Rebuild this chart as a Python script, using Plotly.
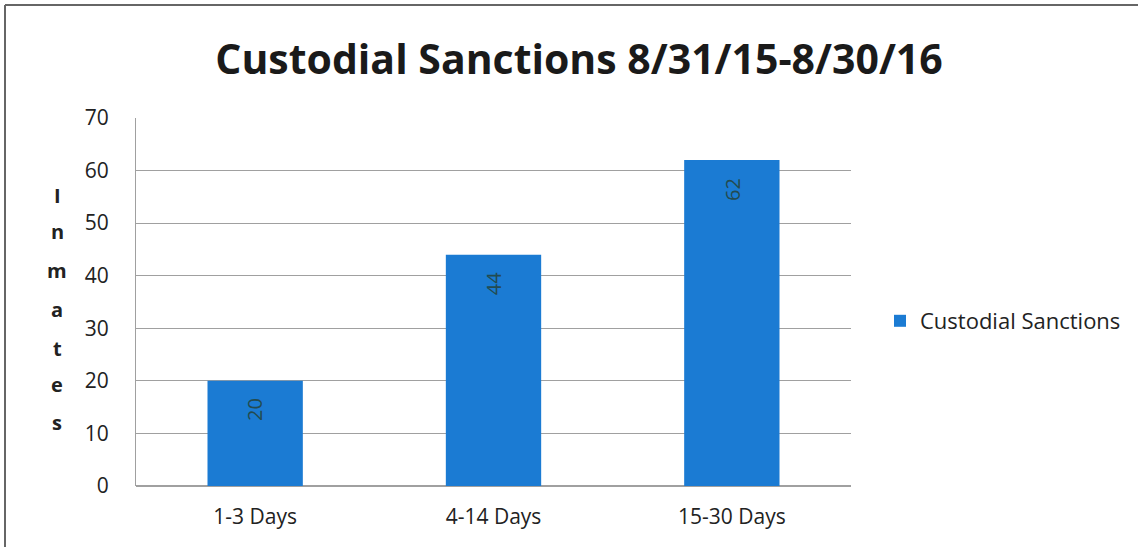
import plotly.graph_objects as go

categories = ["1-3 Days", "4-14 Days", "15-30 Days"]
values = [20, 44, 62]
series_name = "Custodial Sanctions"
title_text = "Custodial Sanctions 8/31/15-8/30/16"
y_title = "Inmates"
y_ticks = [0, 10, 20, 30, 40, 50, 60, 70]

W, H = 1138, 547
L, R, T, B = 136, 287, 118, 61
pw, ph = W - L - R, H - T - B

font = "Open Sans, Liberation Sans, sans-serif"


def px2x(px):
    return (px - L) / pw


def py2y(py):
    return 1 - (py - T) / ph


fig = go.Figure()
fig.add_trace(go.Bar(
    x=categories, y=values, name=series_name,
    marker=dict(color="#1B7BD3", line=dict(width=0)),
    width=0.4,
))

# data labels, rotated, a little below the bar tops
for c, v in zip(categories, values):
    fig.add_annotation(x=c, y=v, yshift=-29, text=str(v), textangle=-90,
                       showarrow=False, xanchor="center", yanchor="middle",
                       font=dict(family=font, size=20, color="#234B50"))

fig.update_layout(
    width=W, height=H,
    margin=dict(l=L, r=R, t=T, b=B, autoexpand=False),
    paper_bgcolor="white", plot_bgcolor="white",
    showlegend=True,
    legend=dict(x=px2x(880), y=py2y(321), xanchor="left", yanchor="middle",
                font=dict(family=font, size=22, color="#222"),
                itemwidth=30, bgcolor="rgba(0,0,0,0)"),
    title=dict(text="<b>" + title_text + "</b>", xref="container", x=579 / W,
               xanchor="center", y=1 - 60 / H, yanchor="middle",
               font=dict(family=font, size=41, color="#1a1a1a")),
    xaxis=dict(showline=False, ticks="", ticklabelstandoff=16,
               tickfont=dict(family=font, size=21, color="#222"),
               showgrid=False, automargin=False),
    yaxis=dict(range=[0, 70], tickvals=y_ticks, showgrid=True, gridcolor="#a0a0a0",
               gridwidth=1, showline=True, linecolor="#a0a0a0", zeroline=True,
               zerolinecolor="#a0a0a0", ticks="", ticklabelstandoff=22,
               tickfont=dict(family=font, size=21, color="#222"), automargin=False),
)

# vertical stacked axis title, one letter per line
letter_y = [196, 232, 270, 309, 348, 384, 422]
for ch, yy in zip(y_title, letter_y):
    fig.add_annotation(text="<b>" + ch + "</b>", xref="paper", yref="paper",
                       x=px2x(57), y=py2y(yy), xanchor="center", yanchor="middle",
                       showarrow=False, font=dict(family=font, size=20, color="#222"))

# outer frame lines
fig.add_shape(type="line", xref="paper", yref="paper", x0=px2x(5), x1=px2x(1138),
              y0=py2y(5), y1=py2y(5), line=dict(color="#666", width=2))
fig.add_shape(type="line", xref="paper", yref="paper", x0=px2x(5), x1=px2x(5),
              y0=py2y(5), y1=py2y(547), line=dict(color="#666", width=2))

fig.write_html("out.html", config={"displayModeBar": False})
with open("out.html", "r", encoding="utf-8") as f:
    html = f.read()
html = html.replace("<head>", "<head><style>html,body{margin:0;padding:0;overflow:hidden}</style>", 1)
with open("out.html", "w", encoding="utf-8") as f:
    f.write(html)
